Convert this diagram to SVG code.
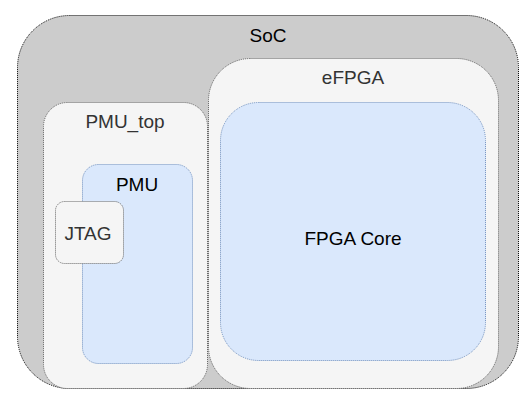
<svg xmlns="http://www.w3.org/2000/svg" width="529" height="412" viewBox="0 0 529 412">
<style>
.box{stroke-width:1;stroke-dasharray:1 1}
.grey{fill:#cccccc;stroke:#000000}
.light{fill:#f5f5f5;stroke:#666666}
.blue{fill:#dae8fc;stroke:#6c8ebf}
text{font-family:"Liberation Sans",Arial,sans-serif;font-size:19px;text-anchor:middle}
.dark{fill:#333333}
.black{fill:#000000}
</style>
<rect width="529" height="412" fill="#ffffff"/>
<g id="SoC">
<rect class="box grey" x="17.5" y="15.5" width="501" height="373" rx="52" ry="52"/>
<text class="black" x="268" y="42">SoC</text>
</g>
<g id="eFPGA">
<rect class="box light" x="208.5" y="58.5" width="290" height="330" rx="42" ry="42"/>
<text class="dark" x="353" y="84">eFPGA</text>
</g>
<g id="FPGA_Core">
<rect class="box blue" x="220.5" y="102.5" width="265" height="258" rx="38" ry="38"/>
<text class="black" x="353" y="245">FPGA Core</text>
</g>
<g id="PMU_top">
<rect class="box light" x="43.5" y="102.5" width="164" height="286" rx="24" ry="24"/>
<text class="dark" x="125" y="128">PMU_top</text>
</g>
<g id="PMU">
<rect class="box blue" x="82.5" y="164.5" width="110" height="199" rx="16" ry="16"/>
<text class="black" x="137" y="191">PMU</text>
</g>
<g id="JTAG">
<rect class="box light" x="55.5" y="201.5" width="68" height="62" rx="9" ry="9"/>
<text class="dark" x="88" y="240">JTAG</text>
</g>
<g id="connectors"></g>
</svg>
